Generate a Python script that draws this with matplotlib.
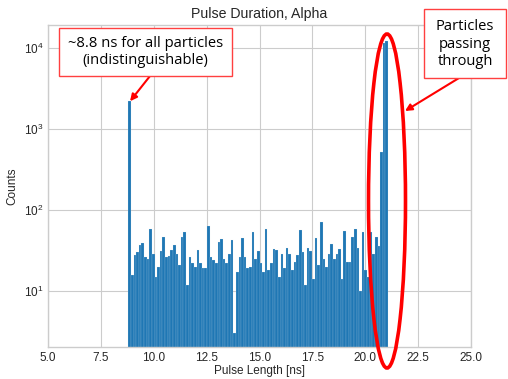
import numpy as np
import matplotlib
matplotlib.use("Agg")
import matplotlib.pyplot as plt
from matplotlib.patches import Ellipse, Rectangle

# counts per bin (left to right)
counts = [2200, 16, 28, 30, 37, 39, 26, 25, 58, 29,
          15, 20, 31, 46, 26, 27, 32, 37, 29, 21,
          46, 53, 12, 26, 22, 20, 32, 22, 19, 19,
          63, 26, 24, 22, 40, 44, 25, 22, 29, 43,
          3, 17, 26, 45, 26, 19, 20, 53, 25, 31,
          22, 17, 58, 18, 22, 33, 32, 15, 29, 19,
          34, 29, 18, 23, 28, 57, 30, 12, 34, 31,
          14, 45, 21, 72, 25, 20, 29, 38, 25, 29,
          33, 14, 55, 23, 23, 47, 58, 34, 10, 53,
          18, 15, 53, 29, 46, 36, 525, 11500, 12200]
x_start, x_stop = 8.8, 21.08

title = "Pulse Duration, Alpha"
xlabel = "Pulse Length [ns]"
ylabel = "Counts"
note_left = "~8.8 ns for all particles\n(indistinguishable)"
note_right = "Particles\npassing\nthrough"

plt.style.use("seaborn-v0_8-whitegrid")
plt.rcParams["font.family"] = ["Liberation Sans", "DejaVu Sans"]

W, H = 508, 379
fig = plt.figure(figsize=(W / 100, H / 100), dpi=100)
ax = fig.add_axes([48 / W, 1 - 347 / H, 423 / W, 322 / H])

edges = np.linspace(x_start, x_stop, len(counts) + 1)
ax.hist(edges[:-1], bins=edges, weights=counts, color="#1f77b4",
        edgecolor="#dde8f2", linewidth=0.12, log=True)

ax.set_xlim(5, 25)
ax.set_ylim(2.04, 19200)
ax.set_xticks(np.arange(5, 25.1, 2.5))
ax.set_title(title, fontsize=10.2, color=".15", pad=5)
ax.set_xlabel(xlabel, fontsize=8.5, labelpad=1)
ax.set_ylabel(ylabel, fontsize=8.5)
ax.tick_params(labelsize=8.5)

# callout boxes (figure pixels)
def px(x, y):
    return x / W, 1 - y / H

box_ec = "#ff4040"
fig.add_artist(Rectangle(px(59, 76), 173 / W, 48 / H, transform=fig.transFigure,
                         facecolor="white", edgecolor=box_ec, lw=1.0))
fig.text(*px(145.5, 52), note_left, ha="center", va="center",
         fontsize=10.6, family="Open Sans", color="black", linespacing=1.25)

fig.add_artist(Rectangle(px(424, 78), 82 / W, 69 / H, transform=fig.transFigure,
                         facecolor="white", edgecolor=box_ec, lw=1.0))
fig.text(*px(465, 44), note_right, ha="center", va="center",
         fontsize=10.6, family="Open Sans", color="black", linespacing=1.2)

# arrows
ax.annotate("", xy=(x_start + 0.08, counts[0]), xycoords="data",
            xytext=px(150, 76), textcoords="figure fraction",
            arrowprops=dict(arrowstyle="-|>", color="red", lw=1.5,
                            mutation_scale=10, shrinkA=0, shrinkB=0))
ax.annotate("", xy=px(405, 111), xycoords="figure fraction",
            xytext=px(459, 78), textcoords="figure fraction",
            arrowprops=dict(arrowstyle="-|>", color="red", lw=1.5,
                            mutation_scale=10, shrinkA=0, shrinkB=0))

# ellipse around the peak
fig.add_artist(Ellipse(px(387, 201), 37 / W, 334 / H, transform=fig.transFigure,
                       fill=False, edgecolor="red", lw=2.6))

fig.savefig("out.png", dpi=100)
